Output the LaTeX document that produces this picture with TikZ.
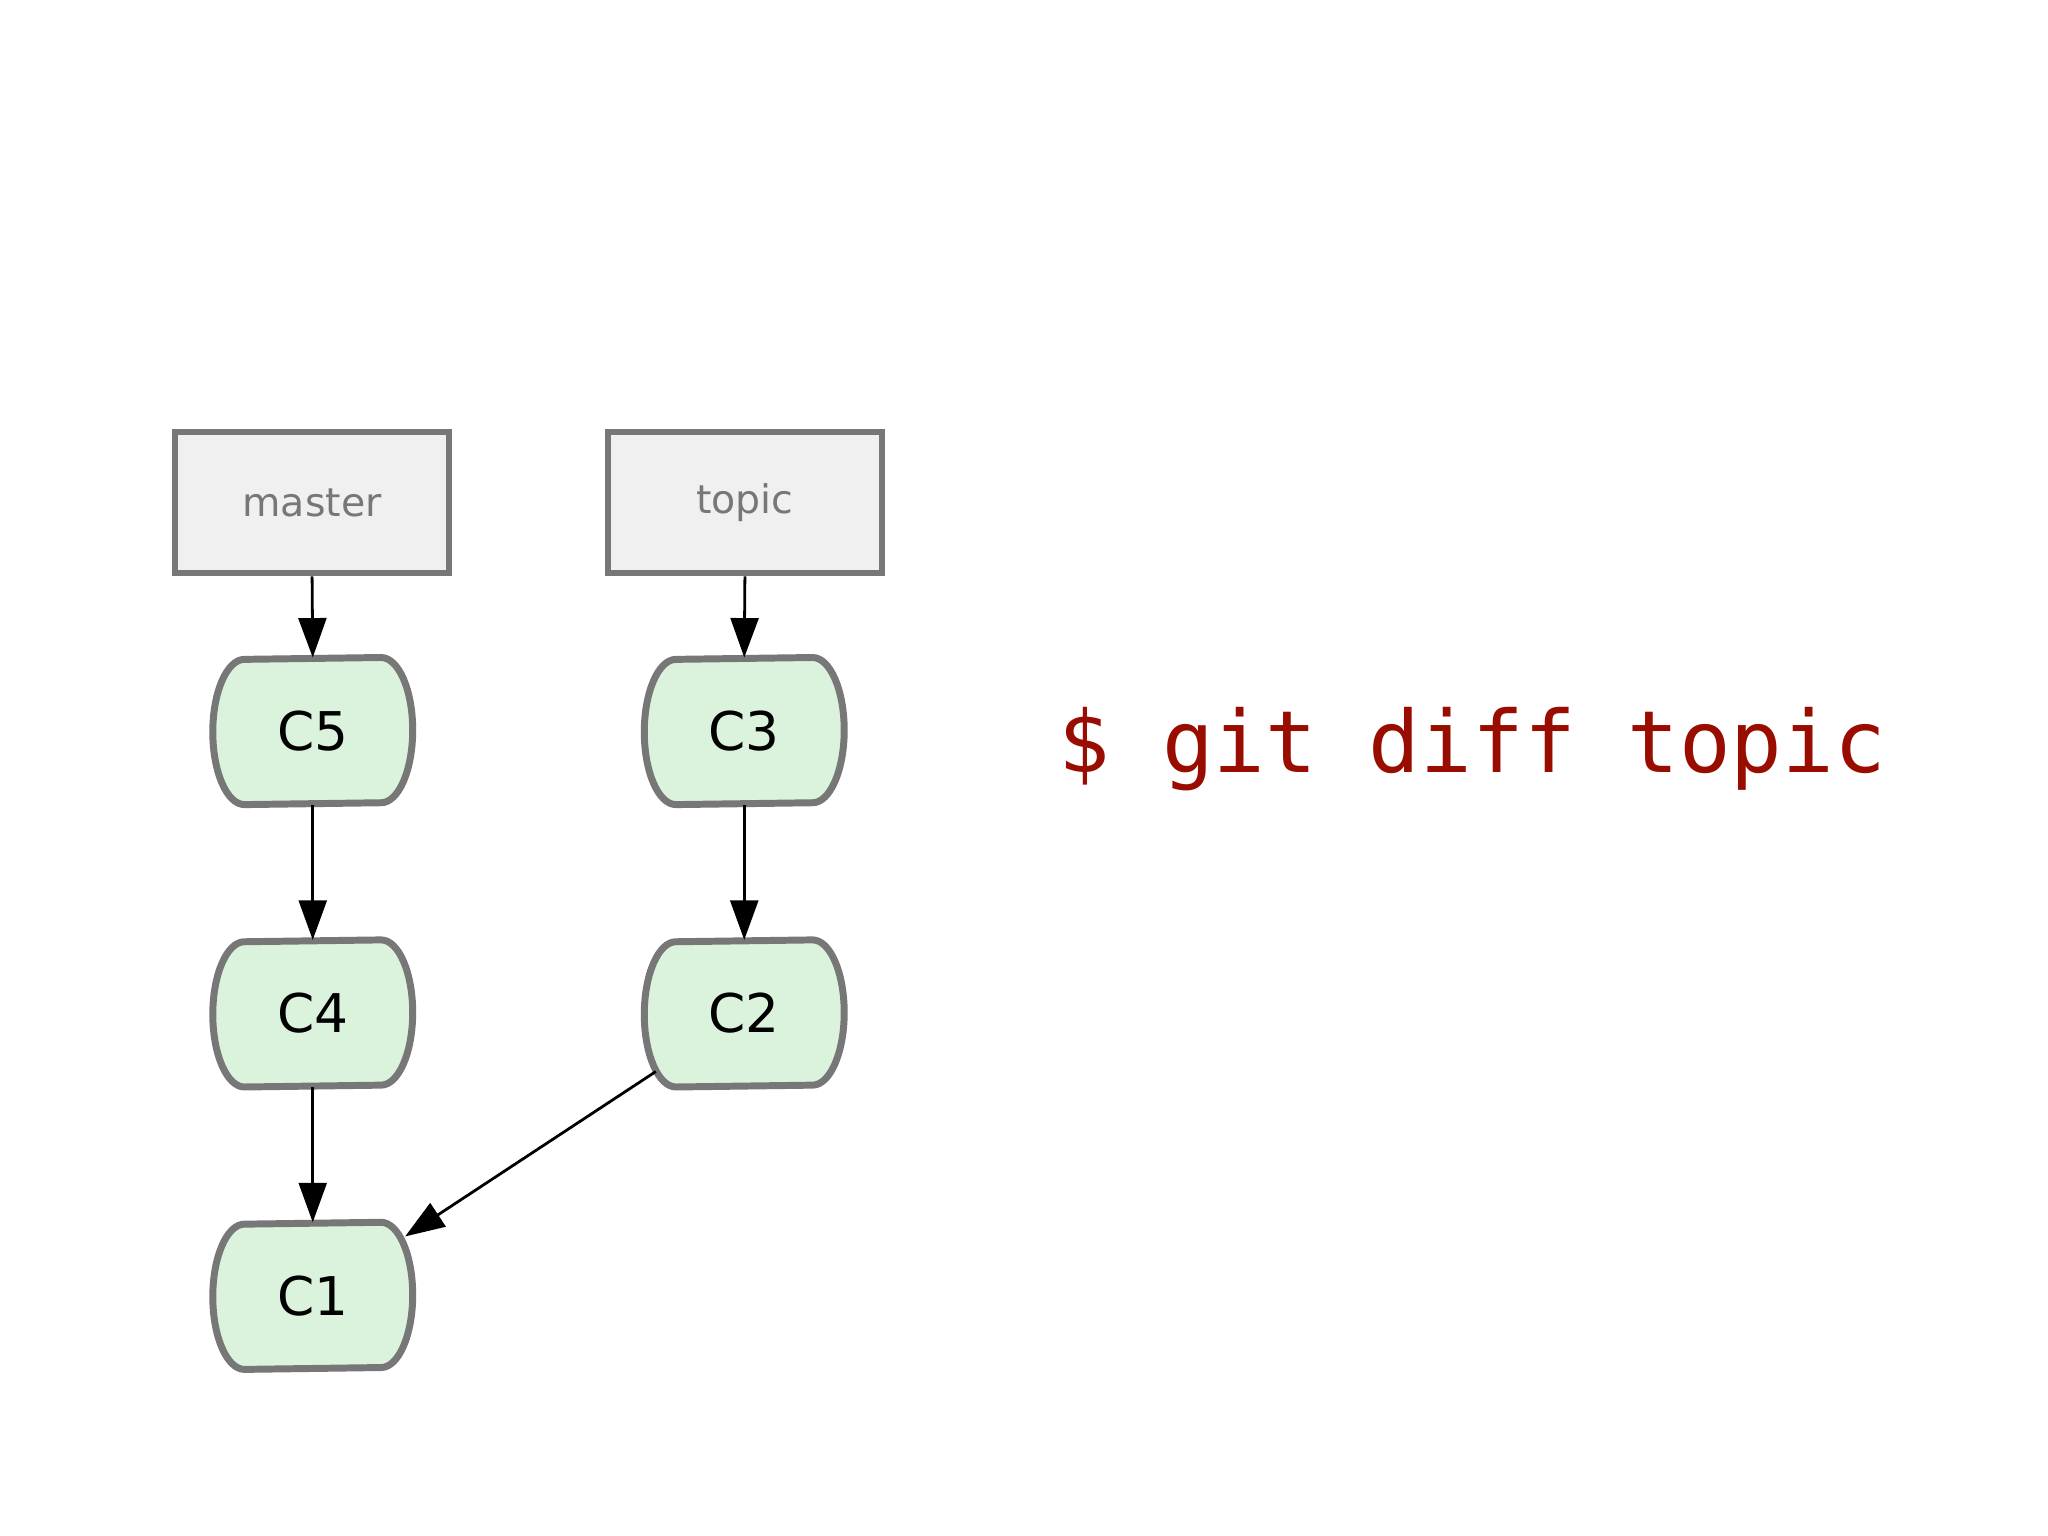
\documentclass[tikz,border=0pt]{standalone}
\usepackage{fontspec}
\setmainfont{DejaVu Sans}
\newfontfamily\monofont{DejaVu Sans Mono}
\usetikzlibrary{arrows.meta}
\definecolor{edge}{HTML}{777777}
\definecolor{boxfill}{HTML}{F0F0F0}
\definecolor{cfill}{HTML}{DBF3DD}
\definecolor{cmd}{HTML}{990D00}
\tikzset{
  branch/.style={draw=edge,fill=boxfill,line width=1.3pt,minimum width=2.08cm,minimum height=1.07cm,text=edge,font=\fontsize{8.5pt}{10pt}\selectfont},
  commit/.style={minimum width=1.5cm,minimum height=1.1cm,font=\fontsize{11.5pt}{13pt}\selectfont},
  link/.style={-{Triangle[width=6pt,length=8.5pt]},line width=0.6pt}
}
\newcommand{\commitnode}[3]{%
  \node[commit] (#1) at (#2) {};
  \draw[draw=edge,fill=cfill,line width=1.5pt]
    ([xshift=-0.24cm]#1.north east) arc[start angle=90,end angle=-90,x radius=0.24cm,y radius=0.55cm]
    -- ([xshift=0.24cm]#1.south west) arc[start angle=270,end angle=90,x radius=0.24cm,y radius=0.55cm] -- cycle;
  \node[commit] at (#1.center) {#3};
}
\begin{document}
\begin{tikzpicture}[x=0.01cm,y=-0.01cm]
\useasboundingbox[fill=white] (0,0) rectangle (1552,1164);
\node[branch] (master) at (236.5,381) {master};
\node[branch] (topic) at (564.5,381) {topic};
\commitnode{C5}{237,554}{C5}
\commitnode{C3}{564,554}{C3}
\commitnode{C4}{237,768}{C4}
\commitnode{C2}{564,768}{C2}
\commitnode{C1}{237,982}{C1}
\draw[link] (master.south) -- (C5.north);
\draw[link] (topic.south) -- (C3.north);
\draw[link] (C5.south) -- (C4.north);
\draw[link] (C3.south) -- (C2.north);
\draw[link] (C4.south) -- (C1.north);
\draw[link] ([shift={(-67,44)}]C2.center) -- ([shift={(70,-45)}]C1.center);
\node[anchor=west,text=cmd,font=\monofont\fontsize{18.5pt}{22pt}\selectfont] (cmd) at (790,568) {\$ git diff topic};
\end{tikzpicture}
\end{document}
